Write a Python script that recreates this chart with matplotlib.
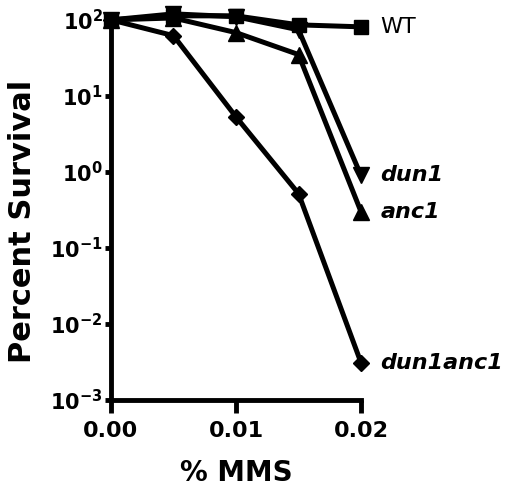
import matplotlib
matplotlib.use("Agg")
import matplotlib.pyplot as plt
from matplotlib.ticker import FixedLocator, FixedFormatter, NullLocator

# MMS dose (%) and percent survival for each strain
mms = [0.0, 0.005, 0.01, 0.015, 0.02]
wt = [100, 113, 113, 86, 81]
dun1 = [100, 120, 110, 74, 0.9]
anc1 = [100, 106, 68, 35, 0.30]
dun1anc1 = [100, 62, 5.3, 0.52, 0.0031]

strains = [
    ("WT", wt, "s", "normal", "normal"),
    ("dun1", dun1, "v", "bold", "italic"),
    ("anc1", anc1, "^", "bold", "italic"),
    ("dun1anc1", dun1anc1, "D", "bold", "italic"),
]

xticks = [0.0, 0.01, 0.02]
xticklabels = ["0.00", "0.01", "0.02"]
yticks = [1e-3, 1e-2, 1e-1, 1e0, 1e1, 1e2]
yticklabels = [r"$\mathbf{10^{-3}}$", r"$\mathbf{10^{-2}}$", r"$\mathbf{10^{-1}}$",
               r"$\mathbf{10^{0}}$", r"$\mathbf{10^{1}}$", r"$\mathbf{10^{2}}$"]

plt.rcParams["font.family"] = "DejaVu Sans"

fig = plt.figure(figsize=(5.15, 4.97), dpi=100)
ax = fig.add_axes([0.2155, 0.195, 0.4855, 0.765])

sizes = {"s": 10, "v": 11, "^": 11, "D": 8}
for name, vals, marker, weight, style in strains:
    ax.plot(mms, vals, color="black", lw=3.6, marker=marker,
            markersize=sizes[marker], clip_on=False, zorder=3)
    ax.annotate(name, xy=(mms[-1], vals[-1]), xytext=(14, 0),
                textcoords="offset points", va="center", ha="left",
                fontsize=16, fontweight=weight, fontstyle=style,
                annotation_clip=False)

ax.set_yscale("log")
ax.set_xlim(0, 0.02)
ax.set_ylim(1e-3, 1e2)

ax.xaxis.set_major_locator(FixedLocator(xticks))
ax.xaxis.set_major_formatter(FixedFormatter(xticklabels))
ax.yaxis.set_major_locator(FixedLocator(yticks))
ax.yaxis.set_major_formatter(FixedFormatter(yticklabels))
ax.yaxis.set_minor_locator(NullLocator())

for side in ("top", "right"):
    ax.spines[side].set_visible(False)
for side in ("left", "bottom"):
    ax.spines[side].set_linewidth(3.5)

ax.tick_params(axis="x", direction="out", length=9, width=3.5, pad=6,
               labelsize=16)
ax.tick_params(axis="y", direction="out", length=4, width=3.5, pad=2,
               labelsize=15)
for lbl in ax.get_xticklabels():
    lbl.set_fontweight("bold")

ax.set_xlabel("% MMS", fontsize=20, fontweight="bold", labelpad=13)
ax.set_ylabel("Percent Survival", fontsize=22, fontweight="bold")
ax.yaxis.set_label_coords(-0.296, 0.47)

fig.savefig("out.png", dpi=100)
